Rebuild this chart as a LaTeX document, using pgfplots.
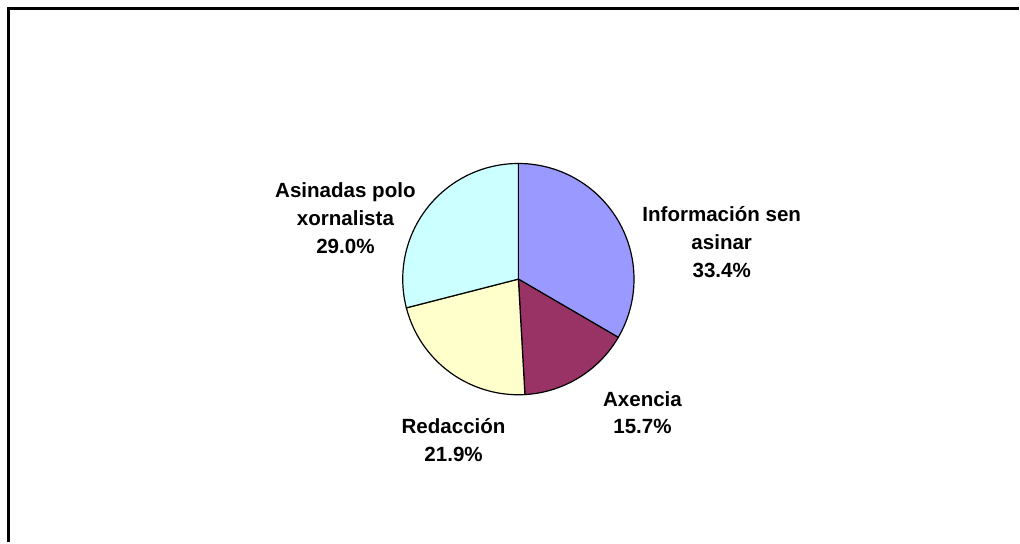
\documentclass[border=0pt]{standalone}
\usepackage{pgfplots}
\pgfplotsset{compat=1.18}
\usepackage{fontspec}
\setmainfont{Liberation Sans}
\definecolor{cInfo}{HTML}{9999FF}
\definecolor{cAx}{HTML}{993366}
\definecolor{cRed}{HTML}{FFFFCC}
\definecolor{cAs}{HTML}{CCFFFF}
% shares (percent)
\def\pInfo{33.4}
\def\pAx{15.7}
\def\pRed{21.9}
\def\pAs{29.0}
\pgfmathsetmacro\aA{90}
\pgfmathsetmacro\aB{90-3.6*\pInfo}
\pgfmathsetmacro\aC{\aB-3.6*\pAx}
\pgfmathsetmacro\aD{\aC-3.6*\pRed}
\pgfmathsetmacro\aE{\aD-3.6*\pAs}
\begin{document}
\begin{tikzpicture}
\begin{axis}[
  width=510pt, height=271pt, scale only axis,
  xmin=0, xmax=1020, ymin=0, ymax=542,
  hide axis, clip=false,
]
\path (axis cs:0,0) rectangle (axis cs:1020,542);
% frame
\addplot[black, line width=1.2pt, line join=miter] coordinates {(8.5,-2) (8.5,533.5) (1022,533.5)};
% wedges
\addplot[fill=cInfo, draw=black, line width=0.6pt, domain=\aB:\aA, samples=80] ({520+116*cos(x)},{262+116*sin(x)}) -- (axis cs:520,262) -- cycle;
\addplot[fill=cAx, draw=black, line width=0.6pt, domain=\aC:\aB, samples=60] ({520+116*cos(x)},{262+116*sin(x)}) -- (axis cs:520,262) -- cycle;
\addplot[fill=cRed, draw=black, line width=0.6pt, domain=\aD:\aC, samples=60] ({520+116*cos(x)},{262+116*sin(x)}) -- (axis cs:520,262) -- cycle;
\addplot[fill=cAs, draw=black, line width=0.6pt, domain=\aE:\aD, samples=80] ({520+116*cos(x)},{262+116*sin(x)}) -- (axis cs:520,262) -- cycle;
% labels
\tikzset{lab/.style={align=center, font=\fontsize{10.3}{14}\selectfont\bfseries, inner sep=0pt}}
\node[lab] at (axis cs:346.5,323) {Asinadas polo\\xornalista\\29.0\%};
\node[lab] at (axis cs:724,299) {Información sen\\asinar\\33.4\%};
\node[lab] at (axis cs:644.5,128) {Axencia\\15.7\%};
\node[lab] at (axis cs:455,101) {Redacción\\21.9\%};
\end{axis}
\end{tikzpicture}
\end{document}
